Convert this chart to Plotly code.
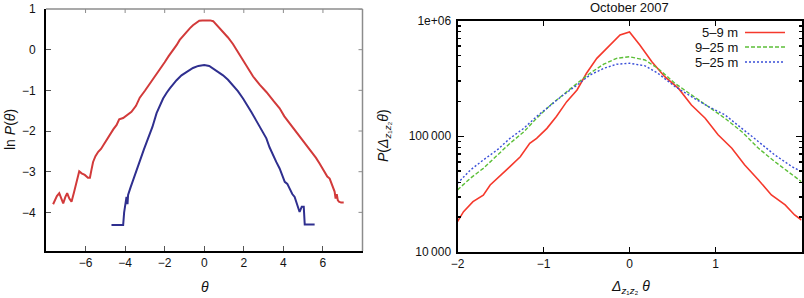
import plotly.graph_objects as go

# ---------------- Left panel data: ln P(theta) ----------------
left_red_theta = [-7.64, -7.45, -7.33, -7.22, -7.13, -7.02, -6.93, -6.82, -6.71, -6.58,
                  -6.46, -6.38, -6.32, -6.20, -6.04, -5.88, -5.78, -5.70, -5.62, -5.50,
                  -5.36, -5.22, -5.11, -4.95, -4.77, -4.60, -4.43, -4.30, -4.10, -3.90,
                  -3.68, -3.45, -3.26, -3.00, -2.75, -2.50, -2.25, -2.00, -1.80, -1.58,
                  -1.40, -1.24, -1.05, -0.90, -0.72, -0.57, -0.40, -0.25, -0.10, 0.10,
                  0.30, 0.45, 0.60, 0.80, 0.95, 1.20, 1.45, 1.70, 1.96, 2.20,
                  2.47, 2.80, 3.14, 3.50, 3.81, 4.05, 4.32, 4.50, 4.66, 4.90,
                  5.16, 5.35, 5.50, 5.65, 5.83, 5.98, 6.09, 6.22, 6.34, 6.45,
                  6.59, 6.64, 6.70, 6.75, 6.81, 6.92, 7.05]
left_red_lnp = [-3.80, -3.60, -3.53, -3.70, -3.78, -3.62, -3.53, -3.66, -3.74, -3.50,
                -3.29, -3.10, -2.99, -3.04, -3.08, -3.15, -3.15, -2.95, -2.76, -2.62,
                -2.51, -2.44, -2.35, -2.22, -2.10, -1.96, -1.85, -1.71, -1.68, -1.60,
                -1.53, -1.38, -1.18, -1.01, -0.84, -0.66, -0.49, -0.31, -0.16, -0.02,
                0.11, 0.24, 0.35, 0.44, 0.53, 0.60, 0.67, 0.71, 0.72, 0.72,
                0.72, 0.70, 0.62, 0.52, 0.44, 0.30, 0.14, -0.05, -0.26, -0.46,
                -0.66, -0.86, -1.04, -1.26, -1.44, -1.64, -1.81, -1.94, -2.02, -2.18,
                -2.35, -2.46, -2.55, -2.66, -2.80, -2.92, -3.00, -3.12, -3.17, -3.30,
                -3.49, -3.66, -3.55, -3.70, -3.74, -3.76, -3.76]

left_blue_theta = [-4.69, -4.10, -4.05, -3.96, -3.93, -3.88, -3.85, -3.72, -3.60, -3.45,
                   -3.26, -3.05, -2.84, -2.62, -2.41, -2.20, -2.08, -1.90, -1.74, -1.40,
                   -1.15, -0.90, -0.57, -0.30, 0.00, 0.25, 0.45, 0.70, 0.95, 1.20,
                   1.45, 1.70, 1.96, 2.18, 2.38, 2.60, 2.80, 2.97, 3.14, 3.30,
                   3.47, 3.64, 3.81, 3.95, 4.07, 4.20, 4.32, 4.45, 4.57, 4.70,
                   4.82, 4.93, 5.03, 5.08, 5.58]
left_blue_lnp = [-4.31, -4.31, -4.00, -3.74, -3.62, -3.80, -3.57, -3.38, -3.21, -2.98,
                 -2.76, -2.45, -2.18, -1.90, -1.56, -1.30, -1.20, -1.06, -0.95, -0.75,
                 -0.63, -0.55, -0.45, -0.40, -0.38, -0.40, -0.46, -0.54, -0.63, -0.74,
                 -0.87, -1.02, -1.20, -1.36, -1.53, -1.72, -1.90, -2.05, -2.18, -2.40,
                 -2.59, -2.76, -2.92, -3.10, -3.25, -3.30, -3.41, -3.55, -3.62, -3.80,
                 -3.99, -3.86, -3.86, -4.30, -4.30]

# ---------------- Right panel data: October 2007 ----------------
red_theta = [-2.00, -1.93, -1.82, -1.70, -1.62, -1.51, -1.39, -1.27, -1.16, -1.08,
             -0.96, -0.85, -0.73, -0.61, -0.50, -0.38, -0.23, -0.11, 0.00, 0.12,
             0.26, 0.41, 0.57, 0.72, 0.88, 1.03, 1.19, 1.34, 1.50, 1.65,
             1.81, 1.92, 2.00]
red_p = [18300, 22300, 27200, 31000, 37900, 44800, 54600, 66500, 86900, 95900,
         117000, 148000, 199000, 251000, 350000, 471000, 614000, 750000, 795000, 614000,
         441000, 327000, 259000, 186000, 143000, 103000, 78700, 56500, 41900, 31100,
         25500, 20900, 18900]

green_theta = [-2.00, -1.85, -1.70, -1.54, -1.39, -1.23, -1.08, -0.92, -0.77, -0.61,
               -0.46, -0.30, -0.15, 0.00, 0.18, 0.33, 0.53, 0.72, 0.92, 1.11,
               1.31, 1.50, 1.69, 1.89, 2.00]
green_p = [34400, 43400, 52800, 68900, 86900, 109000, 143000, 186000, 227000, 286000,
           350000, 419000, 471000, 486000, 456000, 386000, 286000, 227000, 180000, 143000,
           109000, 78700, 60300, 46200, 40500]

blue_theta = [-2.00, -1.85, -1.70, -1.54, -1.39, -1.23, -1.08, -0.92, -0.77, -0.61,
              -0.46, -0.30, -0.15, 0.00, 0.18, 0.33, 0.53, 0.72, 0.92, 1.11,
              1.31, 1.50, 1.69, 1.89, 2.00]
blue_p = [39200, 51100, 62400, 76000, 95900, 117000, 148000, 186000, 227000, 277000,
          338000, 386000, 419000, 427000, 406000, 350000, 268000, 220000, 180000, 153000,
          117000, 89700, 68900, 54600, 49400]

series_names = ["5\u20139 m", "9\u201325 m", "5\u201325 m"]
left_xticks = [-6, -4, -2, 0, 2, 4, 6]
left_yticks = [1, 0, -1, -2, -3, -4]
right_xticks = [-2, -1, 0, 1, 2]
right_yticks = [1e4, 1e5, 1e6]
right_ytext = ["10\u2009000", "100\u2009000", "1e+06"]
right_minor = [2e4, 3e4, 4e4, 5e4, 6e4, 7e4, 8e4, 9e4, 2e5, 3e5, 4e5, 5e5, 6e5, 7e5, 8e5, 9e5]

W, H = 804, 298
def px(x):
    return x / W
def py(y):
    return (H - y) / H

FONT = "Liberation Sans, Arial, sans-serif"
RED_L = "#d23a3a"
BLUE_L = "#2f2f8f"
RED_R = "#f5392c"
GREEN_R = "#5cbf38"
BLUE_R = "#3a4fd8"
GRAY = "#8c8c8c"

fig = go.Figure()
fig.add_trace(go.Scatter(x=left_red_theta, y=left_red_lnp, mode="lines",
                         line=dict(color=RED_L, width=2), xaxis="x", yaxis="y", showlegend=False))
fig.add_trace(go.Scatter(x=left_blue_theta, y=left_blue_lnp, mode="lines",
                         line=dict(color=BLUE_L, width=2), xaxis="x", yaxis="y", showlegend=False))
fig.add_trace(go.Scatter(x=red_theta, y=red_p, mode="lines", name=series_names[0],
                         line=dict(color=RED_R, width=1.6), xaxis="x2", yaxis="y2", showlegend=False))
fig.add_trace(go.Scatter(x=green_theta, y=green_p, mode="lines", name=series_names[1],
                         line=dict(color=GREEN_R, width=1.4, dash="4px,2px"), xaxis="x2", yaxis="y2", showlegend=False))
fig.add_trace(go.Scatter(x=blue_theta, y=blue_p, mode="lines", name=series_names[2],
                         line=dict(color=BLUE_R, width=1.4, dash="2px,2px"), xaxis="x2", yaxis="y2", showlegend=False))

Lx0, Lx1, Ly0, Ly1 = 46, 362.5, 251, 9
Rx0, Rx1, Ry0, Ry1 = 457.5, 801.5, 252, 20.5

tickfont = dict(family=FONT, size=12, color="#111")
common = dict(showgrid=False, zeroline=False, ticks="inside", tickfont=tickfont, automargin=False)

fig.update_layout(
    width=W, height=H, autosize=False,
    margin=dict(l=0, r=0, t=0, b=0, pad=0),
    paper_bgcolor="white", plot_bgcolor="white",
    showlegend=False,
    xaxis=dict(domain=[px(Lx0), px(Lx1)], range=[-8, 8], tickvals=left_xticks,
               anchor="y", showline=True, linecolor="black", linewidth=2,
               ticklen=5, tickcolor="#555", **common),
    yaxis=dict(domain=[py(Ly0), py(Ly1)], range=[-4.95, 1], tickvals=left_yticks,
               anchor="x", showline=True, linecolor="black", linewidth=2,
               ticklen=5, tickcolor="#555", ticklabelstandoff=6, **common),
    xaxis2=dict(domain=[px(Rx0), px(Rx1)], range=[-2, 2], tickvals=right_xticks,
                anchor="y2", showline=True, linecolor="black", linewidth=2, mirror="ticks",
                ticklen=5, tickcolor="black", tickwidth=1.5, **common),
    yaxis2=dict(domain=[py(Ry0), py(Ry1)], type="log", range=[4, 6], tickvals=right_yticks,
                ticktext=right_ytext, anchor="x2", showline=True, linecolor="black", linewidth=2,
                mirror="ticks", ticklen=6, tickcolor="black", tickwidth=1.5, ticklabelstandoff=2,
                minor=dict(tickvals=right_minor, ticks="inside", ticklen=3, tickcolor="black"),
                **common),
)

shapes = []
# gray top and right frame of the left panel, with small inward ticks
shapes.append(dict(type="line", xref="x domain", yref="y domain", x0=0, x1=1, y0=1, y1=1,
                   line=dict(color=GRAY, width=1.5)))
shapes.append(dict(type="line", xref="x domain", yref="y domain", x0=1, x1=1, y0=0, y1=1,
                   line=dict(color=GRAY, width=1.5)))
lh = Ly0 - Ly1
lw = Lx1 - Lx0
for t in left_xticks:
    shapes.append(dict(type="line", xref="x", yref="y domain", x0=t, x1=t, y0=1, y1=1 - 4 / lh,
                       line=dict(color=GRAY, width=1)))
for t in left_yticks:
    shapes.append(dict(type="line", xref="x domain", yref="y", x0=1, x1=1 - 4 / lw, y0=t, y1=t,
                       line=dict(color=GRAY, width=1)))

ann = []
ann.append(dict(text="October 2007", x=px(629.5), y=py(7), xref="paper", yref="paper",
                showarrow=False, font=dict(family=FONT, size=13, color="#111"),
                xanchor="center", yanchor="middle"))
ann.append(dict(text="ln <i>P</i>(<i>\u03b8</i>)", x=px(10), y=py(130), xref="paper", yref="paper",
                showarrow=False, textangle=-90, font=dict(family=FONT, size=14, color="#111"),
                xanchor="center", yanchor="middle"))
ann.append(dict(text="<i>\u03b8</i>", x=px(204.5), y=py(287), xref="paper", yref="paper",
                showarrow=False, font=dict(family=FONT, size=14, color="#111"),
                xanchor="center", yanchor="middle"))
ann.append(dict(text="<i>P</i>(<i>\u0394</i><sub><i>z</i>\u2081<i>z</i>\u2082</sub><i>\u03b8</i>)",
                x=px(384), y=py(136), xref="paper", yref="paper",
                showarrow=False, textangle=-90, font=dict(family=FONT, size=14, color="#111"),
                xanchor="center", yanchor="middle"))
ann.append(dict(text="<i>\u0394</i><sub><i>z</i>\u2081<i>z</i>\u2082</sub> <i>\u03b8</i>",
                x=px(630), y=py(287), xref="paper", yref="paper",
                showarrow=False, font=dict(family=FONT, size=14, color="#111"),
                xanchor="center", yanchor="middle"))

leg_y = [32.5, 47, 62]
leg_col = [RED_R, GREEN_R, BLUE_R]
leg_dash = ["solid", "4px,2px", "2px,2px"]
for name, yy, c, d in zip(series_names, leg_y, leg_col, leg_dash):
    ann.append(dict(text=name, x=px(740), y=py(yy), xref="paper", yref="paper",
                    showarrow=False, font=dict(family=FONT, size=13, color="#111"),
                    xanchor="right", yanchor="middle"))
    shapes.append(dict(type="line", xref="paper", yref="paper", x0=px(745), x1=px(785),
                       y0=py(yy), y1=py(yy), line=dict(color=c, width=1.6, dash=d)))

fig.update_layout(annotations=ann, shapes=shapes)
fig.write_html("out.html", config={"displayModeBar": False, "staticPlot": True},
               post_script="document.body.style.margin='0';document.body.style.overflow='hidden';")
